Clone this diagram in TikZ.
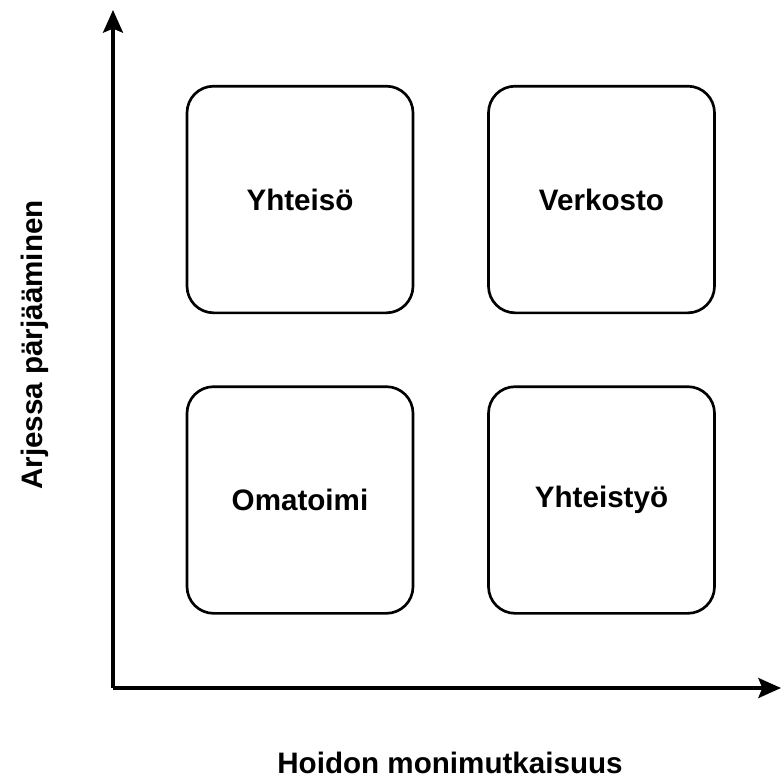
\documentclass[tikz,border=0pt]{standalone}
\usepackage{fontspec}
\setmainfont{Liberation Sans}
\usetikzlibrary{arrows.meta}
\tikzset{
  quad/.style={draw=black, line width=2pt, rounded corners=20pt, minimum width=169.5pt, minimum height=170pt, inner sep=0pt, font=\fontsize{22.2}{26}\selectfont\bfseries},
  axis/.style={draw=black, line width=2.4pt, -{Stealth[length=17pt, width=15pt, inset=3pt]}},
  axlabel/.style={inner sep=0pt, font=\fontsize{22.2}{26}\selectfont\bfseries}
}
\begin{document}
\begin{tikzpicture}[x=0.75pt, y=-0.75pt]
\useasboundingbox (0,0) rectangle (782,779);
\coordinate (origin) at (113,688);
\coordinate (ytip) at (113,10);
\coordinate (xtip) at (781,688);
\draw[axis] (origin) -- (ytip);
\draw[axis] (origin) -- (xtip);
\node[quad] (tl) at (300,199.5) {Yhteisö};
\node[quad] (tr) at (601.5,199.5) {Verkosto};
\node[quad] (bl) at (300,500) {Omatoimi};
\node[quad] (br) at (601.5,500) {Yhteistyö};
\node[axlabel, rotate=90, anchor=base] (ylab) at (42,345) {Arjessa pärjääminen};
\node[axlabel, anchor=base] (xlab) at (450,773) {Hoidon monimutkaisuus};
\end{tikzpicture}
\end{document}
